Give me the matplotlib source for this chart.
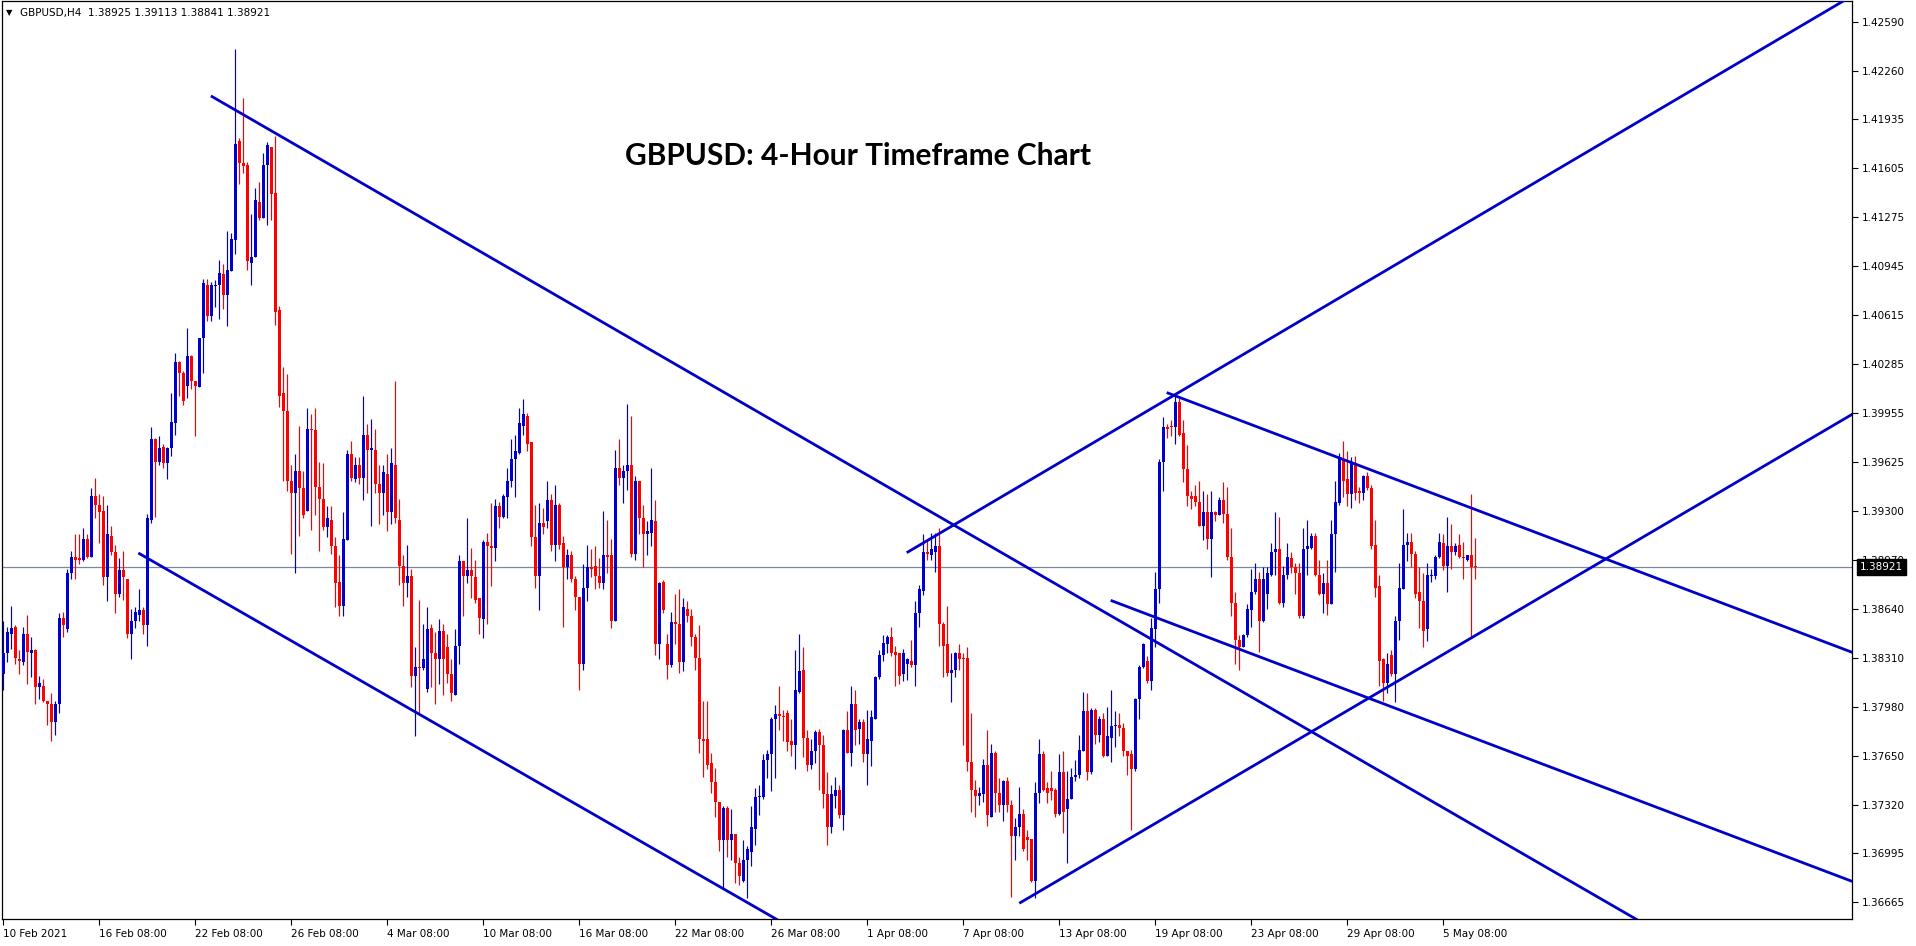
import matplotlib; matplotlib.use('Agg')

import matplotlib.pyplot as plt
import numpy as np

# GBPUSD H4 candles (candle 0 = 10 Feb 2021 08:00)
opens = [1.3820, 1.3834, 1.3847, 1.3852, 1.3830, 1.3828, 1.3847, 1.3834, 1.3836, 1.3811, 1.3812, 1.3802,
         1.3800, 1.3788, 1.3800, 1.3858, 1.3850, 1.3888, 1.3899, 1.3898, 1.3897, 1.3911, 1.3899, 1.3940,
         1.3934, 1.3930, 1.3885, 1.3913, 1.3902, 1.3874, 1.3890, 1.3884, 1.3847, 1.3856, 1.3860, 1.3863,
         1.3853, 1.3924, 1.3978, 1.3963, 1.3973, 1.3962, 1.3972, 1.3989, 1.4030, 1.4023, 1.4014, 1.4034,
         1.4017, 1.4013, 1.4046, 1.4082, 1.4061, 1.4081, 1.4082, 1.4089, 1.4075, 1.4091, 1.4112, 1.4179,
         1.4164, 1.4163, 1.4097, 1.4101, 1.4138, 1.4127, 1.4163, 1.4175, 1.4144, 1.4065, 1.4009, 1.3997,
         1.3950, 1.3942, 1.3957, 1.3945, 1.3930, 1.3985, 1.3984, 1.3946, 1.3938, 1.3919, 1.3924, 1.3906,
         1.3882, 1.3866, 1.3910, 1.3968, 1.3951, 1.3961, 1.3952, 1.3981, 1.3971, 1.3971, 1.3948, 1.3942,
         1.3955, 1.3929, 1.3961, 1.3924, 1.3893, 1.3881, 1.3886, 1.3819, 1.3825, 1.3824, 1.3810, 1.3851,
         1.3834, 1.3830, 1.3849, 1.3838, 1.3820, 1.3806, 1.3839, 1.3896, 1.3886, 1.3890, 1.3885, 1.3871,
         1.3857, 1.3909, 1.3906, 1.3905, 1.3933, 1.3926, 1.3939, 1.3950, 1.3965, 1.3969, 1.3987, 1.3994,
         1.3976, 1.3912, 1.3886, 1.3922, 1.3923, 1.3937, 1.3907, 1.3934, 1.3908, 1.3892, 1.3900, 1.3884,
         1.3872, 1.3827, 1.3878, 1.3892, 1.3893, 1.3886, 1.3881, 1.3900, 1.3900, 1.3856, 1.3959, 1.3952,
         1.3957, 1.3961, 1.3901, 1.3950, 1.3925, 1.3914, 1.3915, 1.3923, 1.3840, 1.3882, 1.3840, 1.3826,
         1.3855, 1.3854, 1.3828, 1.3864, 1.3859, 1.3845, 1.3831, 1.3776, 1.3776, 1.3760, 1.3747, 1.3734,
         1.3708, 1.3730, 1.3708, 1.3712, 1.3693, 1.3681, 1.3695, 1.3700, 1.3716, 1.3737, 1.3737, 1.3762,
         1.3766, 1.3790, 1.3793, 1.3792, 1.3794, 1.3775, 1.3772, 1.3808, 1.3823, 1.3777, 1.3759, 1.3768,
         1.3781, 1.3772, 1.3739, 1.3717, 1.3738, 1.3742, 1.3725, 1.3782, 1.3767, 1.3800, 1.3783, 1.3788,
         1.3766, 1.3775, 1.3790, 1.3818, 1.3833, 1.3840, 1.3845, 1.3835, 1.3834, 1.3820, 1.3827, 1.3829,
         1.3826, 1.3861, 1.3876, 1.3902, 1.3900, 1.3902, 1.3906, 1.3854, 1.3840, 1.3821, 1.3823, 1.3834,
         1.3831, 1.3831, 1.3761, 1.3742, 1.3738, 1.3739, 1.3759, 1.3724, 1.3767, 1.3740, 1.3732, 1.3748,
         1.3732, 1.3711, 1.3717, 1.3726, 1.3710, 1.3709, 1.3681, 1.3740, 1.3766, 1.3743, 1.3743, 1.3742,
         1.3726, 1.3754, 1.3729, 1.3736, 1.3751, 1.3752, 1.3768, 1.3795, 1.3754, 1.3796, 1.3779, 1.3790,
         1.3765, 1.3777, 1.3785, 1.3786, 1.3784, 1.3768, 1.3766, 1.3756, 1.3803, 1.3825, 1.3829, 1.3815,
         1.3850, 1.3877, 1.3963, 1.3986, 1.3987, 1.3986, 1.4003, 1.3982, 1.3958, 1.3940, 1.3940, 1.3936,
         1.3920, 1.3929, 1.3911, 1.3929, 1.3927, 1.3937, 1.3928, 1.3899, 1.3868, 1.3843, 1.3838, 1.3846,
         1.3863, 1.3875, 1.3884, 1.3856, 1.3874, 1.3887, 1.3902, 1.3904, 1.3868, 1.3887, 1.3898, 1.3892,
         1.3888, 1.3859, 1.3904, 1.3905, 1.3913, 1.3887, 1.3874, 1.3881, 1.3867, 1.3914, 1.3935, 1.3965,
         1.3951, 1.3941, 1.3961, 1.3943, 1.3942, 1.3953, 1.3945, 1.3907, 1.3879, 1.3830, 1.3814, 1.3833,
         1.3820, 1.3856, 1.3877, 1.3907, 1.3909, 1.3901, 1.3875, 1.3869, 1.3850, 1.3886, 1.3886, 1.3899,
         1.3908, 1.3893, 1.3906, 1.3902, 1.3907, 1.3899, 1.3897, 1.3900, 1.38925]

highs = [1.3856, 1.3852, 1.3866, 1.3853, 1.3836, 1.3852, 1.3860, 1.3845, 1.3837, 1.3819, 1.3817, 1.3802,
         1.3807, 1.3802, 1.3861, 1.3862, 1.3891, 1.3903, 1.3914, 1.3914, 1.3918, 1.3914, 1.3945, 1.3952,
         1.3941, 1.3940, 1.3934, 1.3920, 1.3907, 1.3898, 1.3903, 1.3884, 1.3864, 1.3865, 1.3877, 1.3865,
         1.3928, 1.3986, 1.3979, 1.3980, 1.3975, 1.3973, 1.4009, 1.4036, 1.4031, 1.4024, 1.4053, 1.4035,
         1.4017, 1.4046, 1.4086, 1.4086, 1.4084, 1.4085, 1.4099, 1.4096, 1.4118, 1.4117, 1.4241, 1.4181,
         1.4208, 1.4165, 1.4130, 1.4147, 1.4151, 1.4171, 1.4178, 1.4175, 1.4182, 1.4068, 1.4027, 1.4022,
         1.3961, 1.3968, 1.3987, 1.3957, 1.3999, 1.3995, 1.3999, 1.3963, 1.3962, 1.3933, 1.3933, 1.3912,
         1.3900, 1.3929, 1.3971, 1.3977, 1.3966, 1.3966, 1.4007, 1.3988, 1.3992, 1.3985, 1.3961, 1.3961,
         1.3968, 1.3972, 1.4017, 1.3938, 1.3900, 1.3907, 1.3891, 1.3838, 1.3870, 1.3854, 1.3865, 1.3854,
         1.3848, 1.3857, 1.3854, 1.3847, 1.3830, 1.3850, 1.3900, 1.3896, 1.3925, 1.3905, 1.3897, 1.3871,
         1.3910, 1.3915, 1.3935, 1.3938, 1.3936, 1.3941, 1.3959, 1.3978, 1.3981, 1.3999, 1.4005, 1.3996,
         1.3976, 1.3934, 1.3935, 1.3932, 1.3950, 1.3941, 1.3947, 1.3935, 1.3913, 1.3904, 1.3903, 1.3886,
         1.3872, 1.3894, 1.3907, 1.3904, 1.3906, 1.3898, 1.3930, 1.3924, 1.3911, 1.3971, 1.3978, 1.3961,
         1.4002, 1.3994, 1.3953, 1.3950, 1.3934, 1.3923, 1.3959, 1.3937, 1.3882, 1.3883, 1.3847, 1.3862,
         1.3874, 1.3877, 1.3871, 1.3869, 1.3864, 1.3847, 1.3853, 1.3802, 1.3802, 1.3767, 1.3757, 1.3734,
         1.3731, 1.3731, 1.3729, 1.3712, 1.3697, 1.3708, 1.3704, 1.3731, 1.3743, 1.3745, 1.3766, 1.3769,
         1.3791, 1.3799, 1.3812, 1.3796, 1.3796, 1.3790, 1.3836, 1.3847, 1.3838, 1.3782, 1.3776, 1.3782,
         1.3783, 1.3779, 1.3754, 1.3745, 1.3751, 1.3745, 1.3783, 1.3795, 1.3812, 1.3809, 1.3790, 1.3790,
         1.3796, 1.3796, 1.3819, 1.3836, 1.3846, 1.3846, 1.3852, 1.3839, 1.3834, 1.3837, 1.3831, 1.3843,
         1.3869, 1.3880, 1.3914, 1.3911, 1.3915, 1.3915, 1.3918, 1.3855, 1.3866, 1.3834, 1.3835, 1.3840,
         1.3834, 1.3838, 1.3794, 1.3749, 1.3744, 1.3763, 1.3782, 1.3773, 1.3768, 1.3750, 1.3749, 1.3751,
         1.3735, 1.3723, 1.3744, 1.3729, 1.3715, 1.3709, 1.3747, 1.3776, 1.3768, 1.3747, 1.3755, 1.3743,
         1.3766, 1.3768, 1.3755, 1.3757, 1.3762, 1.3779, 1.3808, 1.3807, 1.3797, 1.3797, 1.3792, 1.3794,
         1.3798, 1.3809, 1.3795, 1.3794, 1.3787, 1.3768, 1.3769, 1.3804, 1.3826, 1.3841, 1.3832, 1.3858,
         1.3889, 1.3965, 1.3993, 1.3988, 1.3991, 1.4008, 1.4006, 1.3991, 1.3974, 1.3943, 1.3947, 1.3950,
         1.3943, 1.3941, 1.3943, 1.3930, 1.3939, 1.3949, 1.3946, 1.3918, 1.3875, 1.3846, 1.3847, 1.3867,
         1.3891, 1.3895, 1.3889, 1.3892, 1.3892, 1.3908, 1.3929, 1.3926, 1.3893, 1.3908, 1.3902, 1.3895,
         1.3895, 1.3918, 1.3924, 1.3915, 1.3915, 1.3897, 1.3888, 1.3897, 1.3924, 1.3950, 1.3969, 1.3977,
         1.3970, 1.3966, 1.3967, 1.3946, 1.3954, 1.3956, 1.3947, 1.3924, 1.3887, 1.3831, 1.3834, 1.3836,
         1.3859, 1.3895, 1.3931, 1.3915, 1.3915, 1.3903, 1.3892, 1.3888, 1.3895, 1.3891, 1.3900, 1.3915,
         1.3914, 1.3926, 1.3921, 1.3908, 1.3914, 1.3909, 1.3900, 1.3941, 1.39113]

lows = [1.3809, 1.3828, 1.3837, 1.3827, 1.3820, 1.3826, 1.3813, 1.3818, 1.3800, 1.3803, 1.3801, 1.3786,
        1.3775, 1.3779, 1.3794, 1.3845, 1.3848, 1.3884, 1.3884, 1.3894, 1.3896, 1.3898, 1.3899, 1.3925,
        1.3908, 1.3880, 1.3869, 1.3900, 1.3861, 1.3872, 1.3870, 1.3844, 1.3830, 1.3851, 1.3856, 1.3847,
        1.3839, 1.3922, 1.3926, 1.3961, 1.3959, 1.3951, 1.3967, 1.3981, 1.4007, 1.4001, 1.4006, 1.4012,
        1.3980, 1.4013, 1.4023, 1.4058, 1.4058, 1.4067, 1.4059, 1.4066, 1.4054, 1.4091, 1.4103, 1.4150,
        1.4157, 1.4092, 1.4082, 1.4101, 1.4126, 1.4127, 1.4122, 1.4126, 1.4055, 1.4000, 1.3950, 1.3943,
        1.3901, 1.3888, 1.3913, 1.3925, 1.3930, 1.3917, 1.3927, 1.3903, 1.3917, 1.3912, 1.3901, 1.3865,
        1.3859, 1.3859, 1.3910, 1.3950, 1.3949, 1.3948, 1.3937, 1.3942, 1.3920, 1.3942, 1.3921, 1.3927,
        1.3916, 1.3921, 1.3922, 1.3880, 1.3866, 1.3872, 1.3811, 1.3778, 1.3794, 1.3823, 1.3808, 1.3811,
        1.3800, 1.3813, 1.3806, 1.3814, 1.3802, 1.3806, 1.3827, 1.3859, 1.3881, 1.3871, 1.3868, 1.3847,
        1.3844, 1.3854, 1.3879, 1.3896, 1.3918, 1.3925, 1.3925, 1.3946, 1.3939, 1.3968, 1.3981, 1.3970,
        1.3906, 1.3878, 1.3863, 1.3914, 1.3918, 1.3903, 1.3896, 1.3904, 1.3852, 1.3884, 1.3882, 1.3863,
        1.3809, 1.3823, 1.3869, 1.3885, 1.3877, 1.3878, 1.3877, 1.3888, 1.3851, 1.3856, 1.3947, 1.3935,
        1.3944, 1.3899, 1.3897, 1.3914, 1.3892, 1.3900, 1.3906, 1.3833, 1.3830, 1.3861, 1.3817, 1.3825,
        1.3840, 1.3821, 1.3822, 1.3855, 1.3839, 1.3823, 1.3767, 1.3751, 1.3756, 1.3740, 1.3724, 1.3701,
        1.3675, 1.3697, 1.3695, 1.3679, 1.3678, 1.3680, 1.3669, 1.3691, 1.3705, 1.3725, 1.3736, 1.3750,
        1.3741, 1.3750, 1.3782, 1.3775, 1.3768, 1.3765, 1.3756, 1.3807, 1.3764, 1.3755, 1.3756, 1.3760,
        1.3742, 1.3730, 1.3705, 1.3713, 1.3730, 1.3723, 1.3715, 1.3767, 1.3758, 1.3772, 1.3773, 1.3761,
        1.3745, 1.3758, 1.3790, 1.3817, 1.3829, 1.3834, 1.3832, 1.3812, 1.3813, 1.3815, 1.3816, 1.3825,
        1.3812, 1.3852, 1.3873, 1.3897, 1.3897, 1.3889, 1.3839, 1.3818, 1.3819, 1.3801, 1.3818, 1.3823,
        1.3772, 1.3755, 1.3727, 1.3724, 1.3732, 1.3734, 1.3718, 1.3724, 1.3727, 1.3727, 1.3721, 1.3727,
        1.3670, 1.3695, 1.3711, 1.3701, 1.3695, 1.3680, 1.3669, 1.3733, 1.3741, 1.3733, 1.3735, 1.3724,
        1.3725, 1.3713, 1.3693, 1.3736, 1.3748, 1.3750, 1.3768, 1.3749, 1.3753, 1.3773, 1.3774, 1.3764,
        1.3765, 1.3761, 1.3771, 1.3778, 1.3765, 1.3752, 1.3715, 1.3755, 1.3790, 1.3824, 1.3814, 1.3809,
        1.3838, 1.3868, 1.3943, 1.3979, 1.3980, 1.3975, 1.3980, 1.3949, 1.3933, 1.3931, 1.3933, 1.3920,
        1.3910, 1.3904, 1.3885, 1.3923, 1.3927, 1.3922, 1.3897, 1.3859, 1.3827, 1.3823, 1.3838, 1.3845,
        1.3852, 1.3874, 1.3835, 1.3855, 1.3864, 1.3886, 1.3887, 1.3867, 1.3865, 1.3884, 1.3888, 1.3874,
        1.3858, 1.3858, 1.3887, 1.3904, 1.3886, 1.3873, 1.3861, 1.3860, 1.3867, 1.3889, 1.3934, 1.3939,
        1.3933, 1.3932, 1.3937, 1.3935, 1.3937, 1.3944, 1.3904, 1.3872, 1.3812, 1.3802, 1.3807, 1.3819,
        1.3801, 1.3843, 1.3877, 1.3896, 1.3892, 1.3871, 1.3851, 1.3838, 1.3842, 1.3882, 1.3884, 1.3898,
        1.3890, 1.3875, 1.3891, 1.3900, 1.3898, 1.3884, 1.3896, 1.3845, 1.38841]

closes = [1.3834, 1.3848, 1.3851, 1.3831, 1.3829, 1.3847, 1.3835, 1.3836, 1.3811, 1.3814, 1.3802, 1.3800,
          1.3788, 1.3800, 1.3858, 1.3853, 1.3888, 1.3899, 1.3897, 1.3897, 1.3911, 1.3899, 1.3940, 1.3934,
          1.3929, 1.3885, 1.3914, 1.3902, 1.3874, 1.3890, 1.3885, 1.3847, 1.3856, 1.3862, 1.3863, 1.3853,
          1.3925, 1.3978, 1.3963, 1.3972, 1.3962, 1.3972, 1.3990, 1.4030, 1.4023, 1.4004, 1.4034, 1.4017,
          1.4014, 1.4046, 1.4083, 1.4061, 1.4082, 1.4082, 1.4090, 1.4075, 1.4092, 1.4113, 1.4177, 1.4164,
          1.4162, 1.4098, 1.4101, 1.4139, 1.4127, 1.4163, 1.4176, 1.4143, 1.4064, 1.4007, 1.3997, 1.3950,
          1.3942, 1.3957, 1.3945, 1.3927, 1.3985, 1.3984, 1.3946, 1.3938, 1.3919, 1.3925, 1.3906, 1.3881,
          1.3866, 1.3911, 1.3968, 1.3952, 1.3961, 1.3952, 1.3981, 1.3971, 1.3972, 1.3948, 1.3942, 1.3956,
          1.3929, 1.3962, 1.3925, 1.3893, 1.3881, 1.3886, 1.3819, 1.3825, 1.3824, 1.3830, 1.3850, 1.3834,
          1.3830, 1.3849, 1.3830, 1.3820, 1.3807, 1.3839, 1.3896, 1.3886, 1.3890, 1.3886, 1.3870, 1.3858,
          1.3909, 1.3906, 1.3905, 1.3933, 1.3926, 1.3940, 1.3950, 1.3965, 1.3970, 1.3989, 1.3995, 1.3975,
          1.3912, 1.3886, 1.3922, 1.3919, 1.3937, 1.3907, 1.3934, 1.3907, 1.3892, 1.3900, 1.3884, 1.3872,
          1.3827, 1.3878, 1.3892, 1.3891, 1.3886, 1.3881, 1.3900, 1.3899, 1.3856, 1.3959, 1.3952, 1.3957,
          1.3961, 1.3901, 1.3950, 1.3925, 1.3914, 1.3916, 1.3924, 1.3840, 1.3881, 1.3863, 1.3826, 1.3855,
          1.3854, 1.3828, 1.3865, 1.3859, 1.3845, 1.3831, 1.3776, 1.3775, 1.3759, 1.3747, 1.3734, 1.3708,
          1.3730, 1.3708, 1.3712, 1.3693, 1.3684, 1.3695, 1.3702, 1.3717, 1.3737, 1.3738, 1.3762, 1.3766,
          1.3790, 1.3793, 1.3792, 1.3791, 1.3774, 1.3772, 1.3809, 1.3822, 1.3777, 1.3759, 1.3768, 1.3781,
          1.3772, 1.3739, 1.3717, 1.3739, 1.3742, 1.3725, 1.3782, 1.3767, 1.3800, 1.3782, 1.3788, 1.3766,
          1.3776, 1.3791, 1.3818, 1.3833, 1.3841, 1.3845, 1.3834, 1.3833, 1.3819, 1.3834, 1.3830, 1.3826,
          1.3861, 1.3877, 1.3902, 1.3901, 1.3904, 1.3906, 1.3854, 1.3839, 1.3821, 1.3823, 1.3834, 1.3830,
          1.3830, 1.3761, 1.3742, 1.3738, 1.3740, 1.3759, 1.3725, 1.3767, 1.3740, 1.3732, 1.3748, 1.3732,
          1.3711, 1.3717, 1.3726, 1.3702, 1.3708, 1.3681, 1.3740, 1.3766, 1.3742, 1.3740, 1.3741, 1.3726,
          1.3754, 1.3727, 1.3736, 1.3751, 1.3752, 1.3769, 1.3795, 1.3754, 1.3796, 1.3779, 1.3790, 1.3765,
          1.3778, 1.3785, 1.3786, 1.3784, 1.3768, 1.3765, 1.3756, 1.3803, 1.3825, 1.3840, 1.3815, 1.3851,
          1.3877, 1.3963, 1.3986, 1.3985, 1.3986, 1.4003, 1.3981, 1.3958, 1.3940, 1.3938, 1.3936, 1.3920,
          1.3929, 1.3911, 1.3929, 1.3927, 1.3937, 1.3928, 1.3899, 1.3868, 1.3843, 1.3838, 1.3846, 1.3864,
          1.3875, 1.3884, 1.3856, 1.3884, 1.3888, 1.3902, 1.3904, 1.3868, 1.3887, 1.3899, 1.3892, 1.3888,
          1.3859, 1.3904, 1.3906, 1.3913, 1.3887, 1.3874, 1.3881, 1.3867, 1.3914, 1.3936, 1.3966, 1.3950,
          1.3941, 1.3963, 1.3942, 1.3942, 1.3953, 1.3945, 1.3906, 1.3878, 1.3829, 1.3814, 1.3827, 1.3820,
          1.3856, 1.3878, 1.3907, 1.3909, 1.3901, 1.3874, 1.3869, 1.3849, 1.3887, 1.3887, 1.3899, 1.3909,
          1.3893, 1.3906, 1.3902, 1.3906, 1.3899, 1.3898, 1.3900, 1.3892, 1.38921]

last_price = 1.38921
header = "GBPUSD,H4  1.38925 1.39113 1.38841 1.38921"
title = "GBPUSD: 4-Hour Timeframe Chart"

# time axis labels every 24 bars
date_labels = ["10 Feb 2021", "16 Feb 08:00", "22 Feb 08:00", "26 Feb 08:00", "4 Mar 08:00",
               "10 Mar 08:00", "16 Mar 08:00", "22 Mar 08:00", "26 Mar 08:00", "1 Apr 08:00",
               "7 Apr 08:00", "13 Apr 08:00", "19 Apr 08:00", "23 Apr 08:00", "29 Apr 08:00",
               "5 May 08:00"]
bars_per_label = 24

price_ticks = [1.42590, 1.42260, 1.41935, 1.41605, 1.41275, 1.40945, 1.40615, 1.40285, 1.39955,
               1.39625, 1.39300, 1.38970, 1.38640, 1.38310, 1.37980, 1.37650, 1.37320, 1.36995,
               1.36665]

# trend lines drawn on the chart: (bar index, price) -> (bar index, price)
trend_lines = [((51.9, 1.42092), (424.2, 1.36301)),
               ((33.75, 1.39015), (199.2, 1.36458)),
               ((225.85, 1.39017), (474.2, 1.42956)),
               ((254.0, 1.36657), (474.2, 1.40138)),
               ((290.85, 1.40095), (474.2, 1.38224)),
               ((276.85, 1.38696), (474.2, 1.36682))]

BULL = '#0000CD'
BEAR = '#FF0000'
LINE = '#0000C8'

o = np.array(opens)
h = np.array(highs)
l = np.array(lows)
c = np.array(closes)
idx = np.arange(len(o))
cols = np.where(c >= o, BULL, BEAR)

W, H = 1916, 946
fig = plt.figure(figsize=(W / 100, H / 100), dpi=100)
ax = fig.add_axes([2 / W, (H - 919) / H, 1850 / W, 918 / H])

ax.axhline(last_price, color='#7A8899', lw=0.9, zorder=1)

ax.vlines(idx, l, h, colors=cols, lw=0.85, zorder=2)
body_lo = np.minimum(o, c)
body_h = np.maximum(np.abs(c - o), 0.00008)
ax.bar(idx, body_h, bottom=body_lo, width=0.8, color=cols, linewidth=0, zorder=3)

for (x0, y0), (x1, y1) in trend_lines:
    ax.plot([x0, x1], [y0, y1], color=LINE, lw=2.0, solid_capstyle='butt', zorder=4)

ax.set_xlim(-0.325, 462.175)
ax.set_ylim(1.36551, 1.42731)

ax.yaxis.tick_right()
ax.set_yticks(price_ticks)
ax.set_yticklabels(['%.5f' % v for v in price_ticks])
ax.set_xticks(np.arange(len(date_labels)) * bars_per_label)
ax.set_xticklabels(date_labels, ha='left')
ax.tick_params(axis='both', direction='out', length=4, width=0.8, labelsize=7.5,
               colors='black')
ax.tick_params(axis='y', pad=3)
ax.tick_params(axis='x', pad=3)
for s in ax.spines.values():
    s.set_color('black')
    s.set_linewidth(0.9)

ax.annotate('%.5f' % last_price, xy=(1, last_price), xycoords=('axes fraction', 'data'),
            xytext=(8, 0), textcoords='offset pixels', ha='left', va='center',
            fontsize=7.5, color='white', annotation_clip=False, zorder=10,
            bbox=dict(boxstyle='square,pad=0.25', fc='black', ec='black'))

fig.text(6 / W, 1 - 13 / H, '\u25bc', fontsize=6, ha='left', va='center')
fig.text(20 / W, 1 - 13 / H, header, fontsize=7.5, ha='left', va='center')
fig.text(858 / W, 1 - 156 / H, title, fontsize=21.5, fontweight='bold', family='Lato',
         ha='center', va='center')

fig.savefig('out.png', dpi=100, facecolor='white')
